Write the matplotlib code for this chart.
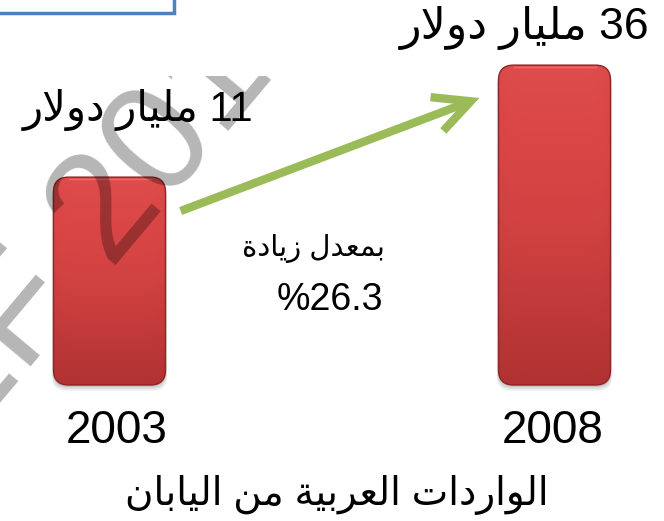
import re
import numpy as np
import matplotlib.pyplot as plt
from matplotlib.patches import FancyBboxPatch, FancyArrowPatch, Rectangle
from matplotlib.colors import LinearSegmentedColormap

plt.rcParams['font.family'] = ['Liberation Sans', 'DejaVu Sans']

# data
years = ['2003', '2008']
values = [11, 36]                       # مليار دولار
unit = 'مليار دولار'
rate = 26.3
rate_text = 'بمعدل زيادة'
title = 'الواردات العربية من اليابان'
watermark = 'EF 2011'
BASE = -35.4                            # the bars in the picture do not start at zero

# --- simple arabic shaping (matplotlib does not join letters) ---
FORMS = {
    'ا': ('\uFE8D', '\uFE8E', None, None),
    'ب': ('\uFE8F', '\uFE90', '\uFE91', '\uFE92'),
    'ة': ('\uFE93', '\uFE94', None, None),
    'ت': ('\uFE95', '\uFE96', '\uFE97', '\uFE98'),
    'د': ('\uFEA9', '\uFEAA', None, None),
    'ر': ('\uFEAD', '\uFEAE', None, None),
    'ز': ('\uFEAF', '\uFEB0', None, None),
    'ع': ('\uFEC9', '\uFECA', '\uFECB', '\uFECC'),
    'ل': ('\uFEDD', '\uFEDE', '\uFEDF', '\uFEE0'),
    'م': ('\uFEE1', '\uFEE2', '\uFEE3', '\uFEE4'),
    'ن': ('\uFEE5', '\uFEE6', '\uFEE7', '\uFEE8'),
    'و': ('\uFEED', '\uFEEE', None, None),
    'ي': ('\uFEF1', '\uFEF2', '\uFEF3', '\uFEF4'),
    '\uFEFB': ('\uFEFB', '\uFEFC', None, None),
}


def ar(s):
    s = s.replace('لا', '\uFEFB')
    out = []
    for i, c in enumerate(s):
        if c not in FORMS:
            out.append(c)
            continue
        prev = s[i - 1] if i > 0 else ''
        nxt = s[i + 1] if i + 1 < len(s) else ''
        join_prev = prev in FORMS and FORMS[prev][2] is not None
        join_next = FORMS[c][2] is not None and nxt in FORMS
        iso, fin, ini, med = FORMS[c]
        if join_prev and join_next:
            out.append(med)
        elif join_prev:
            out.append(fin)
        elif join_next:
            out.append(ini)
        else:
            out.append(iso)
    vis = ''.join(out)[::-1]
    return re.sub(r'[0-9.]+', lambda m: m.group(0)[::-1], vis)


W, H = 664, 521
fig = plt.figure(figsize=(W / 100, H / 100), dpi=100)
ax = fig.add_axes([0, 0, 1, 1])
ax.axis('off')

# 445 px between bars, 4.48 px per billion
xlim = (-109.5 / 445, (W - 109.5) / 445)
ylim = (BASE - (H - 385) / 4.48, BASE + 385 / 4.48)
bw = 112 / 445
rx = 15 / 445
asp = 445 / 4.48

cmap = LinearSegmentedColormap.from_list(
    'bar', ['#b03232', '#c23a3a', '#d24242', '#da4646', '#de4c4c'])

for i, v in enumerate(values):
    x0 = i - bw / 2
    # soft shadow
    for k, a in zip([6, 4, 2], [0.06, 0.08, 0.10]):
        sh = FancyBboxPatch((x0 + rx - k / 445 * 0.3, BASE + rx * asp - k / 4.48),
                            bw - 2 * rx + k / 445 * 0.6, v - BASE - 2 * rx * asp,
                            boxstyle=f'round,pad={rx},rounding_size={rx}',
                            mutation_aspect=asp, fc='black', ec='none',
                            alpha=a, zorder=1)
        ax.add_patch(sh)
    p = FancyBboxPatch((x0 + rx, BASE + rx * asp), bw - 2 * rx, v - BASE - 2 * rx * asp,
                       boxstyle=f'round,pad={rx},rounding_size={rx}',
                       mutation_aspect=asp, fc='none', ec='#8e2626', lw=1.0, zorder=3)
    ax.add_patch(p)
    grad = np.linspace(0, 1, 256).reshape(-1, 1)
    edge = np.linspace(-1, 1, 64).reshape(1, -1)
    img = grad * (1 - 0.12 * np.abs(edge) ** 6)
    im = ax.imshow(img, extent=[x0, x0 + bw, BASE, v], origin='lower',
                   aspect='auto', cmap=cmap, vmin=0, vmax=1, zorder=2)
    im.set_clip_path(p)
    # small top highlight
    ax.plot([x0 + rx, x0 + bw - rx], [v - 0.5, v - 0.5], color='#ec6a6a', lw=1, zorder=3)

ax.set_xlim(xlim)
ax.set_ylim(ylim)


def fx(px):
    return px / W


def fy(py):
    return 1 - py / H


# top-left box
fig.patches.append(Rectangle((-0.01, fy(13)), fx(174) + 0.01, 0.05,
                             transform=fig.transFigure, fc='white',
                             ec='#4f81bd', lw=2.5, zorder=5))

# arrow
arr = FancyArrowPatch((fx(178), fy(212)), (fx(482), fy(97)),
                      transform=fig.transFigure,
                      arrowstyle='->,head_length=1.3,head_width=0.65',
                      mutation_scale=20, color='#9bbb59', lw=6,
                      capstyle='butt', joinstyle='miter', zorder=4)
fig.patches.append(arr)

# watermark
wm = fig.text(fx(110), fy(210), watermark, fontsize=111, color='black', alpha=0.29,
              rotation=50, rotation_mode='anchor', ha='center', va='center',
              family='Liberation Sans', zorder=6)
wm.set_clip_path(Rectangle((0, 0), 1, fy(76), transform=fig.transFigure))

# labels
fig.text(fx(650), fy(39), ar(f'{values[1]} {unit}'), fontsize=32, ha='right',
         va='baseline', zorder=7)
fig.text(fx(253), fy(121), ar(f'{values[0]} {unit}'), fontsize=30, ha='right',
         va='baseline', zorder=7)
fig.text(fx(385), fy(256), ar(rate_text), fontsize=21, ha='right', va='baseline', zorder=7)
fig.text(fx(383), fy(310), f'%{rate}', fontsize=27, ha='right', va='baseline', zorder=7)
for i, yr in enumerate(years):
    fig.text(fx([117, 553][i]), fy(443), yr, fontsize=33, ha='center',
             va='baseline', zorder=7)
fig.text(fx(337), fy(505), ar(title), fontsize=28, ha='center', va='baseline', zorder=7)

fig.savefig('out.png', dpi=100)
